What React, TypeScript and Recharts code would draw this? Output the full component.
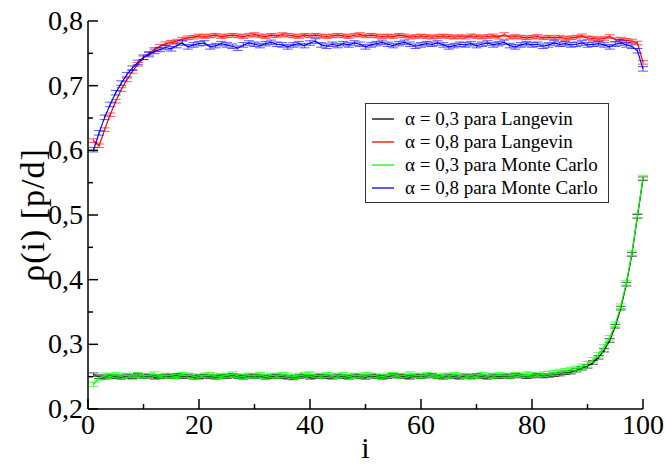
import React from "react";
import { LineChart, Line, XAxis, YAxis, ErrorBar, Legend } from "recharts";

const SERIF = "'Liberation Serif', 'Times New Roman', serif";

// rho(i) for i = 1..100
const L03 = [
  0.253, 0.25, 0.249, 0.251, 0.25, 0.249, 0.251, 0.25, 0.252, 0.25,
  0.251, 0.249, 0.25, 0.251, 0.25, 0.252, 0.25, 0.251, 0.249, 0.25,
  0.251, 0.25, 0.249, 0.251, 0.25, 0.252, 0.25, 0.249, 0.251, 0.25,
  0.251, 0.249, 0.25, 0.251, 0.25, 0.249, 0.248, 0.25, 0.251, 0.249,
  0.25, 0.251, 0.25, 0.249, 0.251, 0.25, 0.249, 0.251, 0.25, 0.249,
  0.251, 0.25, 0.249, 0.25, 0.252, 0.251, 0.25, 0.249, 0.251, 0.25,
  0.251, 0.252, 0.25, 0.249, 0.251, 0.25, 0.249, 0.251, 0.25, 0.252,
  0.25, 0.249, 0.251, 0.25, 0.251, 0.25, 0.252, 0.251, 0.25, 0.251,
  0.252, 0.251, 0.252, 0.253, 0.254, 0.256, 0.257, 0.26, 0.263, 0.266,
  0.272, 0.28, 0.291, 0.306, 0.328, 0.356, 0.393, 0.439, 0.498, 0.556,
];
const L08 = [
  0.615, 0.607, 0.632, 0.655, 0.676, 0.694, 0.709, 0.722, 0.733, 0.743,
  0.75, 0.756, 0.761, 0.765, 0.767, 0.769, 0.772, 0.774, 0.775, 0.777,
  0.776, 0.777, 0.778, 0.776, 0.777, 0.778, 0.777, 0.776, 0.778, 0.779,
  0.777, 0.776, 0.778, 0.777, 0.779, 0.778, 0.777, 0.776, 0.778, 0.777,
  0.778, 0.777, 0.776, 0.777, 0.778, 0.777, 0.776, 0.778, 0.779, 0.777,
  0.778, 0.777, 0.776, 0.777, 0.776, 0.778, 0.777, 0.775, 0.776, 0.777,
  0.776, 0.775, 0.776, 0.777, 0.776, 0.775, 0.776, 0.775, 0.777, 0.776,
  0.775, 0.776, 0.777, 0.775, 0.779, 0.775, 0.776, 0.775, 0.774, 0.775,
  0.776, 0.774, 0.775, 0.774, 0.775, 0.773, 0.774, 0.775, 0.777, 0.774,
  0.773, 0.772, 0.773, 0.776, 0.771, 0.772, 0.77, 0.769, 0.766, 0.736,
];
const MC03 = [
  0.238, 0.248, 0.252, 0.25, 0.253, 0.251, 0.252, 0.249, 0.253, 0.251,
  0.252, 0.254, 0.25, 0.252, 0.251, 0.25, 0.253, 0.252, 0.251, 0.249,
  0.252, 0.253, 0.251, 0.25, 0.252, 0.254, 0.251, 0.25, 0.252, 0.251,
  0.253, 0.25, 0.252, 0.251, 0.253, 0.252, 0.25, 0.251, 0.253, 0.254,
  0.252, 0.251, 0.253, 0.252, 0.251, 0.253, 0.25, 0.252, 0.251, 0.253,
  0.252, 0.251, 0.25, 0.252, 0.253, 0.251, 0.252, 0.254, 0.252, 0.251,
  0.253, 0.252, 0.25, 0.252, 0.251, 0.253, 0.252, 0.251, 0.249, 0.251,
  0.253, 0.252, 0.251, 0.253, 0.252, 0.251, 0.253, 0.252, 0.254, 0.253,
  0.252, 0.254, 0.255, 0.256, 0.258, 0.259, 0.261, 0.263, 0.266, 0.27,
  0.276, 0.284, 0.296, 0.31, 0.331, 0.359, 0.395, 0.441, 0.499, 0.558,
];
const MC08 = [
  0.601, 0.627, 0.651, 0.671, 0.689, 0.704, 0.717, 0.727, 0.736, 0.744,
  0.748, 0.753, 0.756, 0.759, 0.757, 0.762, 0.766, 0.76, 0.763, 0.765,
  0.766, 0.76, 0.762, 0.765, 0.763, 0.761, 0.758, 0.763, 0.766, 0.764,
  0.762, 0.765, 0.767, 0.764, 0.763, 0.76, 0.763, 0.765, 0.762, 0.766,
  0.769, 0.763, 0.761, 0.764, 0.762, 0.765, 0.763, 0.766, 0.764, 0.76,
  0.763, 0.765, 0.767, 0.764, 0.762, 0.765, 0.767, 0.764, 0.761, 0.763,
  0.765, 0.764, 0.766, 0.763, 0.76, 0.762, 0.764, 0.763, 0.765, 0.762,
  0.764, 0.766, 0.763, 0.765, 0.767, 0.762, 0.76, 0.763, 0.765, 0.763,
  0.764, 0.761, 0.763, 0.766, 0.764, 0.765, 0.763, 0.764, 0.766, 0.763,
  0.764, 0.765, 0.763, 0.76, 0.764, 0.766, 0.763, 0.761, 0.754, 0.726,
];
const ERR_LANGEVIN = 0.0028;
const ERR_MC = 0.0035;

const X_TICKS = [0, 10, 20, 30, 40, 50, 60, 70, 80, 90, 100];
const Y_TICKS = [0.2, 0.25, 0.3, 0.35, 0.4, 0.45, 0.5, 0.55, 0.6, 0.65, 0.7, 0.75, 0.8];

const SERIES = [
  { key: "l03", label: "α = 0,3 para Langevin", color: "#000000", values: L03, err: ERR_LANGEVIN },
  { key: "l08", label: "α = 0,8 para Langevin", color: "#ff0000", values: L08, err: ERR_LANGEVIN },
  { key: "mc03", label: "α = 0,3 para Monte Carlo", color: "#00ff00", values: MC03, err: ERR_MC },
  { key: "mc08", label: "α = 0,8 para Monte Carlo", color: "#0000ff", values: MC08, err: ERR_MC },
];

const data = L03.map((_, idx) => {
  const row: Record<string, number> = { i: idx + 1 };
  SERIES.forEach((s) => {
    row[s.key] = s.values[idx];
    row[s.key + "Err"] = s.err;
  });
  return row;
});

const xTick = (side: "bottom" | "top") => (p: any) => {
  const v = p.payload.value;
  const len = v % 20 === 0 ? 10 : 5;
  const dir = side === "bottom" ? -1 : 1;
  return (
    <g>
      <line x1={p.x} x2={p.x} y1={p.y} y2={p.y + dir * len} stroke="#000" strokeWidth={1.5} />
      {side === "bottom" && v % 20 === 0 && (
        <text x={p.x} y={p.y + 25} textAnchor="middle" fontSize={28} fontFamily={SERIF} fill="#000">
          {v}
        </text>
      )}
    </g>
  );
};

const yTick = (side: "left" | "right") => (p: any) => {
  const v = p.payload.value;
  const major = Math.round(v * 100) % 10 === 0;
  const len = major ? 10 : 5;
  const dir = side === "left" ? 1 : -1;
  return (
    <g>
      <line x1={p.x} x2={p.x + dir * len} y1={p.y} y2={p.y} stroke="#000" strokeWidth={1.5} />
      {side === "left" && major && (
        <text x={p.x - 5} y={p.y + 9} textAnchor="end" fontSize={28} fontFamily={SERIF} fill="#000">
          {v.toFixed(1).replace(".", ",")}
        </text>
      )}
    </g>
  );
};

// rotated y-axis title, placed left of the tick labels
const YTitle = (p: any) => {
  const vb = p.viewBox;
  const cx = vb.x + 44;
  const cy = vb.y + vb.height / 2;
  return (
    <text
      x={cx}
      y={cy}
      transform={`rotate(-90, ${cx}, ${cy})`}
      textAnchor="middle"
      fontSize={34}
      fontFamily={SERIF}
      letterSpacing={1}
      fill="#000"
    >
      ρ(i) [p/d]
    </text>
  );
};

const LegendBox = () => (
  <div
    style={{
      border: "1px solid #333",
      background: "#fff",
      width: 244,
      height: 100,
      paddingTop: 3,
      boxSizing: "border-box",
      fontFamily: SERIF,
      fontSize: 19,
    }}
  >
    {SERIES.map((s) => (
      <div key={s.key} style={{ display: "flex", alignItems: "center", height: 23 }}>
        <svg width={22} height={4} style={{ marginLeft: 6, marginRight: 11 }}>
          <line x1={0} x2={22} y1={2} y2={2} stroke={s.color} strokeWidth={1.3} />
        </svg>
        <span style={{ whiteSpace: "nowrap" }}>{s.label}</span>
      </div>
    ))}
  </div>
);

export default function App() {
  return (
    <div style={{ position: "absolute", left: 0, top: 0, background: "#fff" }}>
      <LineChart width={665} height={464} data={data} margin={{ top: 21, right: 22, bottom: 0, left: 0 }}>
        <XAxis
          xAxisId="top"
          orientation="top"
          type="number"
          dataKey="i"
          domain={[0, 100]}
          ticks={X_TICKS}
          interval={0}
          height={0}
          tickSize={0}
          tickMargin={0}
          tickLine={false}
          axisLine={{ stroke: "#000", strokeWidth: 1.5 }}
          tick={xTick("top")}
        />
        <XAxis
          type="number"
          dataKey="i"
          domain={[0, 100]}
          ticks={X_TICKS}
          interval={0}
          height={55}
          tickSize={0}
          tickMargin={0}
          tickLine={false}
          axisLine={{ stroke: "#000", strokeWidth: 1.5 }}
          tick={xTick("bottom")}
          label={{ value: "i", position: "insideBottom", offset: 6, fontSize: 30, fontFamily: SERIF, fill: "#000" }}
        />
        <YAxis
          type="number"
          domain={[0.2, 0.8]}
          ticks={Y_TICKS}
          interval={0}
          width={88}
          tickSize={0}
          tickMargin={0}
          tickLine={false}
          axisLine={{ stroke: "#000", strokeWidth: 1.5 }}
          tick={yTick("left")}
          label={{ value: "ρ(i) [p/d]", content: YTitle }}
        />
        <YAxis
          yAxisId="right"
          orientation="right"
          type="number"
          domain={[0.2, 0.8]}
          ticks={Y_TICKS}
          interval={0}
          width={0}
          tickSize={0}
          tickMargin={0}
          tickLine={false}
          axisLine={{ stroke: "#000", strokeWidth: 1.5 }}
          tick={yTick("right")}
        />
        {SERIES.map((s) => (
          <Line
            key={s.key}
            type="linear"
            dataKey={s.key}
            stroke={s.color}
            strokeWidth={1.2}
            dot={false}
            isAnimationActive={false}
          >
            <ErrorBar dataKey={s.key + "Err"} width={5} stroke={s.color} strokeOpacity={0.65} strokeWidth={1} direction="y" />
          </Line>
        ))}
        <Legend
          layout="vertical"
          align="center"
          verticalAlign="middle"
          content={LegendBox}
          wrapperStyle={{ left: 365, top: 103, width: 244, height: 100 }}
        />
      </LineChart>
    </div>
  );
}
